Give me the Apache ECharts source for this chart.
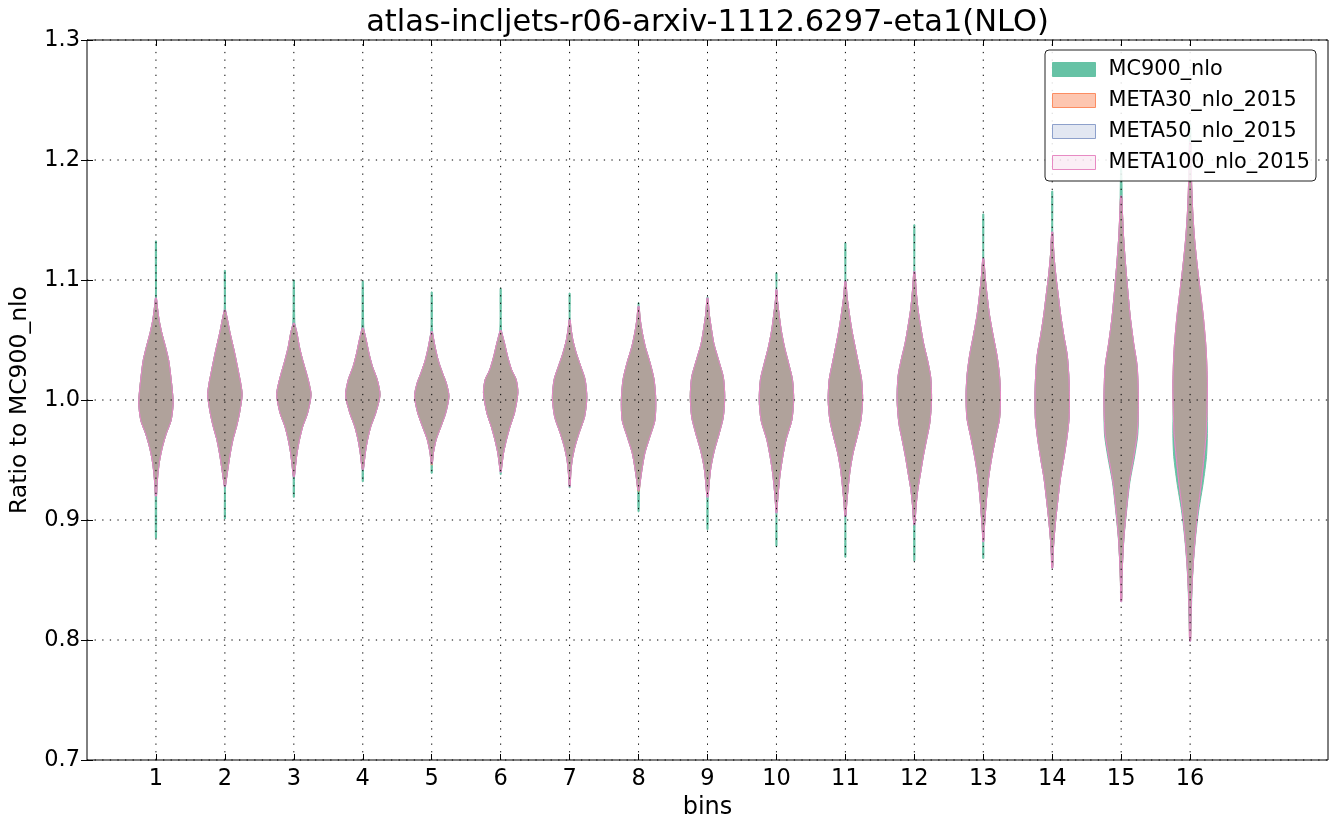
<!DOCTYPE html>
<html><head><meta charset="utf-8">
<script src="https://cdn.jsdelivr.net/npm/echarts@6/dist/echarts.min.js"></script>
<style>html,body{margin:0;padding:0;background:#fff}#c{width:1337px;height:830px}</style>
</head><body><div id="c"></div>
<script>
// ---------------- data ----------------
const bins = [1,2,3,4,5,6,7,8,9,10,11,12,13,14,15,16];
const yTicks = [0.7,0.8,0.9,1.0,1.1,1.2,1.3];
const seriesNames = ['MC900_nlo','META30_nlo_2015','META50_nlo_2015','META100_nlo_2015'];

// extents (min / max of each violin)
const mcMin   = [0.885,0.901,0.919,0.932,0.939,0.938,0.927,0.907,0.892,0.878,0.869,0.866,0.868,0.862,0.835,0.805];
const mcMax   = [1.1325,1.108,1.100,1.099,1.090,1.093,1.089,1.081,1.086,1.106,1.131,1.146,1.155,1.174,1.193,1.230];
const m30Min  = [0.921,0.929,0.937,0.943,0.946,0.941,0.929,0.924,0.920,0.907,0.904,0.897,0.883,0.861,0.833,0.800];
const m30Max  = [1.084,1.074,1.063,1.059,1.056,1.057,1.066,1.077,1.084,1.091,1.098,1.106,1.117,1.139,1.169,1.213];
const m50Min  = [0.920,0.928,0.936,0.942,0.947,0.940,0.928,0.925,0.919,0.906,0.903,0.896,0.882,0.860,0.832,0.799];
const m50Max  = [1.085,1.075,1.064,1.060,1.057,1.058,1.067,1.078,1.085,1.092,1.099,1.107,1.118,1.140,1.170,1.215];
const m100Min = [0.920,0.928,0.936,0.942,0.947,0.940,0.928,0.925,0.919,0.906,0.903,0.896,0.882,0.860,0.832,0.799];
const m100Max = [1.085,1.075,1.064,1.060,1.057,1.058,1.067,1.078,1.085,1.092,1.099,1.107,1.118,1.140,1.170,1.215];

// density profiles [y, relative density] (shared by the META runs)
const shapes = [
 [[0.92,0.04],[0.928,0.06],[0.939,0.12],[0.95,0.22],[0.961,0.38],[0.972,0.6],[0.983,0.88],[0.997,1.0],[1.008,0.95],[1.02,0.86],[1.033,0.74],[1.044,0.56],[1.056,0.34],[1.067,0.18],[1.078,0.08],[1.085,0.03]],
 [[0.928,0.03],[0.933,0.08],[0.944,0.19],[0.956,0.32],[0.967,0.47],[0.978,0.68],[0.989,0.85],[1.004,1.0],[1.013,0.93],[1.022,0.81],[1.039,0.57],[1.056,0.3],[1.067,0.15],[1.075,0.04]],
 [[0.936,0.04],[0.944,0.09],[0.956,0.19],[0.967,0.33],[0.978,0.52],[0.989,0.8],[1.004,1.0],[1.013,0.9],[1.022,0.74],[1.033,0.52],[1.044,0.33],[1.056,0.18],[1.064,0.06]],
 [[0.942,0.04],[0.946,0.07],[0.956,0.15],[0.967,0.28],[0.978,0.47],[0.989,0.75],[1.004,1.0],[1.017,0.84],[1.028,0.56],[1.039,0.36],[1.05,0.2],[1.06,0.06]],
 [[0.947,0.04],[0.956,0.1],[0.967,0.26],[0.978,0.54],[0.989,0.81],[1.003,1.0],[1.014,0.85],[1.022,0.64],[1.033,0.38],[1.044,0.2],[1.057,0.05]],
 [[0.94,0.03],[0.944,0.06],[0.956,0.17],[0.967,0.34],[0.978,0.55],[0.989,0.8],[1.006,1.0],[1.017,0.9],[1.025,0.64],[1.036,0.41],[1.047,0.23],[1.058,0.05]],
 [[0.928,0.03],[0.939,0.07],[0.95,0.15],[0.961,0.31],[0.972,0.54],[0.986,0.87],[1.002,1.0],[1.017,0.9],[1.028,0.65],[1.039,0.39],[1.05,0.19],[1.06,0.08],[1.067,0.03]],
 [[0.925,0.05],[0.933,0.11],[0.944,0.22],[0.956,0.37],[0.969,0.65],[0.983,0.95],[1.0,1.0],[1.017,0.9],[1.031,0.67],[1.044,0.4],[1.056,0.22],[1.067,0.1],[1.078,0.03]],
 [[0.919,0.04],[0.931,0.1],[0.944,0.2],[0.958,0.4],[0.972,0.68],[0.986,0.92],[1.003,1.0],[1.019,0.92],[1.033,0.65],[1.047,0.37],[1.061,0.21],[1.072,0.1],[1.085,0.03]],
 [[0.906,0.03],[0.914,0.06],[0.925,0.12],[0.939,0.22],[0.953,0.37],[0.967,0.56],[0.983,0.89],[1.0,1.0],[1.017,0.93],[1.031,0.7],[1.044,0.47],[1.058,0.28],[1.072,0.15],[1.083,0.06],[1.092,0.02]],
 [[0.903,0.03],[0.914,0.08],[0.928,0.17],[0.942,0.28],[0.956,0.45],[0.969,0.68],[0.983,0.9],[1.0,1.0],[1.017,0.94],[1.031,0.75],[1.044,0.57],[1.058,0.38],[1.072,0.23],[1.086,0.1],[1.099,0.03]],
 [[0.896,0.04],[0.911,0.1],[0.925,0.2],[0.939,0.36],[0.953,0.52],[0.967,0.71],[0.981,0.9],[1.0,1.0],[1.019,0.95],[1.033,0.77],[1.047,0.54],[1.061,0.37],[1.075,0.22],[1.089,0.12],[1.107,0.03]],
 [[0.882,0.03],[0.89,0.05],[0.901,0.1],[0.918,0.19],[0.935,0.31],[0.951,0.48],[0.968,0.71],[0.985,0.95],[1.004,1.0],[1.021,0.94],[1.0375,0.79],[1.054,0.57],[1.071,0.36],[1.0875,0.22],[1.101,0.12],[1.118,0.03]],
 [[0.86,0.02],[0.871,0.05],[0.885,0.11],[0.901,0.21],[0.918,0.34],[0.935,0.48],[0.951,0.67],[0.968,0.85],[0.985,0.98],[1.004,1.0],[1.021,0.96],[1.0375,0.87],[1.054,0.67],[1.071,0.49],[1.0875,0.35],[1.104,0.21],[1.121,0.1],[1.14,0.03]],
 [[0.832,0.02],[0.847,0.04],[0.864,0.08],[0.886,0.16],[0.908,0.3],[0.931,0.47],[0.953,0.73],[0.972,0.93],[1.0,1.0],[1.028,0.93],[1.047,0.73],[1.069,0.53],[1.092,0.38],[1.114,0.25],[1.136,0.14],[1.158,0.07],[1.17,0.03]],
 [[0.799,0.02],[0.819,0.05],[0.842,0.1],[0.864,0.18],[0.886,0.3],[0.908,0.45],[0.931,0.65],[0.953,0.81],[0.972,0.93],[1.0,0.99],[1.015,1.0],[1.042,0.93],[1.069,0.77],[1.092,0.58],[1.114,0.4],[1.136,0.25],[1.158,0.15],[1.18,0.09],[1.2,0.05],[1.215,0.02]]
];
// MC900 profiles where they differ visibly from the META runs
const mcShape15 = [[0.835,0.02],[0.847,0.04],[0.864,0.08],[0.886,0.17],[0.908,0.32],[0.931,0.5],[0.953,0.78],[0.972,0.97],[1.0,0.99],[1.028,0.92],[1.047,0.72],[1.069,0.53],[1.092,0.38],[1.114,0.25],[1.136,0.14],[1.158,0.07],[1.193,0.02]];
const mcShape16 = [[0.805,0.03],[0.842,0.11],[0.864,0.19],[0.886,0.32],[0.908,0.5],[0.931,0.76],[0.953,0.95],[0.972,1.0],[1.0,0.97],[1.042,0.9],[1.069,0.74],[1.092,0.56],[1.114,0.39],[1.136,0.24],[1.158,0.14],[1.18,0.08],[1.2,0.05],[1.23,0.02]];

// ---------------- styles ----------------
const FONT = 'DejaVu Sans';
const HALF = 0.25;      // max half-width of a violin, in bin units
const TAIL = 0.03;      // relative width of the thin tails
const colors = {
  mc:   {fill:'#66c2a5', stroke:'#66c2a5'},
  m30:  {fill:'rgba(252,141,98,0.5)', stroke:'rgba(252,141,98,0.9)'},
  m50:  {fill:'rgba(141,160,203,0.25)', stroke:'rgba(141,160,203,0.9)'},
  m100: {fill:'rgba(231,138,195,0.15)', stroke:'#e78ac3'}
};

function outline(shape, lo, hi) {
  const pts = [[lo, TAIL]];
  shape.forEach(p => { if (p[0] > lo && p[0] < hi) pts.push(p); });
  pts.push([hi, TAIL]);
  return pts;
}
function violinSeries(name, minArr, maxArr, shapeOf, col) {
  return {
    type:'custom', name:name, z:2, clip:true, silent:true,
    data: bins.map(b => [b]),
    itemStyle:{color:col.stroke},
    renderItem: function(params, api) {
      const i = params.dataIndex, b = bins[i];
      const prof = outline(shapeOf(i), minArr[i], maxArr[i]);
      const right = prof.map(p => api.coord([b + HALF * p[1], p[0]]));
      const left = prof.slice().reverse().map(p => api.coord([b - HALF * p[1], p[0]]));
      return {type:'polygon', shape:{points: right.concat(left), smooth:0.25},
              style:{fill:col.fill, stroke:col.stroke, lineWidth:1}};
    }
  };
}
const metaShape = i => shapes[i];
const mcShapeOf = i => (i === 14 ? mcShape15 : i === 15 ? mcShape16 : shapes[i]);

const gridDash = {stroke:'#000', lineWidth:1, lineDash:[1.3,6.3]};
const vGrid = {
  type:'custom', name:'vgrid', z:3, silent:true, data: bins.map(b => [b]),
  renderItem: function(params, api) {
    const b = bins[params.dataIndex];
    const p1 = api.coord([b, yTicks[0]]), p2 = api.coord([b, yTicks[yTicks.length-1]]);
    return {type:'line', shape:{x1:p1[0], y1:p1[1], x2:p2[0], y2:p2[1]}, style:gridDash};
  }
};
const hGrid = {
  type:'custom', name:'hgrid', z:3, silent:true, data: yTicks.map(v => [v]),
  renderItem: function(params, api) {
    const v = yTicks[params.dataIndex];
    const p1 = api.coord([0, v]), p2 = api.coord([18, v]);
    return {type:'line', shape:{x1:p1[0], y1:p1[1], x2:p2[0], y2:p2[1]}, style:gridDash};
  }
};

const chart = echarts.init(document.getElementById('c'), null, {renderer:'canvas'});
const xCommon = {type:'value', min:0, max:18, interval:1, splitLine:{show:false}, axisLine:{show:false}};
const yCommon = {type:'value', min:0.7, max:1.3, interval:0.1, splitLine:{show:false}, axisLine:{show:false}};
chart.setOption({
  animation:false,
  backgroundColor:'#fff',
  textStyle:{fontFamily:FONT},
  grid:{left:87, right:9, top:40, bottom:70, show:true, borderColor:'#000', borderWidth:1, backgroundColor:'transparent'},
  graphic:[{type:'text', x:707.5, y:23, z:10,
    style:{text:'atlas-incljets-r06-arxiv-1112.6297-eta1(NLO)', fill:'#000', font:'30.5px "DejaVu Sans"', align:'center', verticalAlign:'middle'}}],
  xAxis:[
    Object.assign({}, xCommon, {position:'bottom',
      axisTick:{show:true, inside:true, length:6, customValues:bins, lineStyle:{color:'#000'}},
      axisLabel:{show:true, customValues:bins, fontSize:22.5, color:'#000', margin:8, fontFamily:FONT,
                 formatter: v => (v >= 1 && v <= 16 ? String(v) : '')},
      name:'bins', nameLocation:'middle', nameGap:35,
      nameTextStyle:{fontSize:24, color:'#000', fontFamily:FONT}}),
    Object.assign({}, xCommon, {position:'top',
      axisTick:{show:true, inside:true, length:6, customValues:bins, lineStyle:{color:'#000'}},
      axisLabel:{show:false}})
  ],
  yAxis:[
    Object.assign({}, yCommon, {position:'left',
      axisTick:{show:true, inside:true, length:6, lineStyle:{color:'#000'}},
      axisLabel:{fontSize:22.5, color:'#000', margin:7, fontFamily:FONT, formatter: v => v.toFixed(1)},
      name:'Ratio to MC900_nlo', nameLocation:'middle', nameGap:55,
      nameTextStyle:{fontSize:23.5, color:'#000', fontFamily:FONT}}),
    Object.assign({}, yCommon, {position:'right',
      axisTick:{show:true, inside:true, length:6, lineStyle:{color:'#000'}},
      axisLabel:{show:false}})
  ],
  legend:{
    orient:'vertical', left:1045, top:50,
    padding:[9,6,8,7], itemGap:10, itemWidth:43, itemHeight:14,
    backgroundColor:'rgba(255,255,255,0.85)', borderColor:'#222', borderWidth:1, borderRadius:4,
    textStyle:{fontFamily:FONT, fontSize:20.8, color:'#000', lineHeight:21, padding:[0,0,0,8]},
    selectedMode:false,
    data:[
      {name:seriesNames[0], icon:'rect', itemStyle:{color:'#66c2a5', borderColor:'#66c2a5', borderWidth:1}},
      {name:seriesNames[1], icon:'rect', itemStyle:{color:'rgba(252,141,98,0.5)', borderColor:'#fc8d62', borderWidth:1}},
      {name:seriesNames[2], icon:'rect', itemStyle:{color:'rgba(141,160,203,0.25)', borderColor:'#8da0cb', borderWidth:1}},
      {name:seriesNames[3], icon:'rect', itemStyle:{color:'rgba(231,138,195,0.15)', borderColor:'#e78ac3', borderWidth:1}}
    ]
  },
  series:[
    violinSeries(seriesNames[0], mcMin, mcMax, mcShapeOf, colors.mc),
    violinSeries(seriesNames[1], m30Min, m30Max, metaShape, colors.m30),
    violinSeries(seriesNames[2], m50Min, m50Max, metaShape, colors.m50),
    violinSeries(seriesNames[3], m100Min, m100Max, metaShape, colors.m100),
    vGrid, hGrid
  ]
});
</script></body></html>
